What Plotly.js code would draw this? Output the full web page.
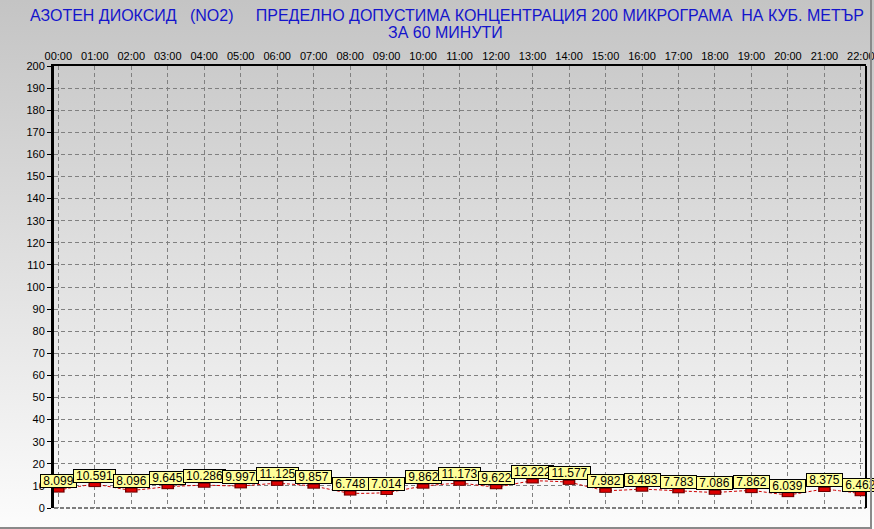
<!DOCTYPE html>
<html><head><meta charset="utf-8">
<script src="https://cdn.plot.ly/plotly-3.0.1.min.js"></script>
<style>
html,body{margin:0;padding:0;background:#fff;}
#wrap{position:relative;width:874px;height:529px;background:linear-gradient(#c4c4c4,#fcfcfc);overflow:hidden}
#chart{position:absolute;left:0;top:0;width:874px;height:529px}
#frame{position:absolute;left:0;top:0;width:870px;height:527px;border-right:2px solid #8a8a8a;border-bottom:2px solid #8a8a8a;pointer-events:none;box-sizing:content-box}
</style></head>
<body><div id="wrap"><div id="chart"></div><div id="frame"></div></div>
<script>
const hours = ['00:00','01:00','02:00','03:00','04:00','05:00','06:00','07:00','08:00','09:00','10:00','11:00',
  '12:00','13:00','14:00','15:00','16:00','17:00','18:00','19:00','20:00','21:00','22:00'];
const no2 = [8.099,10.591,8.096,9.645,10.286,9.997,11.125,9.857,6.748,7.014,9.862,11.173,
  9.622,12.222,11.577,7.982,8.483,7.783,7.086,7.862,6.039,8.375,6.462];
const titleLine1 = 'АЗОТЕН ДИОКСИД\u00a0\u00a0\u00a0(NO2)\u00a0\u00a0\u00a0\u00a0\u00a0ПРЕДЕЛНО ДОПУСТИМА КОНЦЕНТРАЦИЯ 200 МИКРОГРАМА\u00a0\u00a0НА КУБ. МЕТЪР';
const titleLine2 = 'ЗА 60 МИНУТИ';

const FONT = 'Arial, "Liberation Sans", sans-serif';
const TITLE_COLOR = '#1414cc';
const labels = no2.map(v => v.toFixed(3));

const traces = [
  {x: hours, y: no2, mode: 'lines', line: {color: '#d00000', width: 1, dash: '3px,2px', shape: 'spline', smoothing: 0.6}, hoverinfo: 'skip'},
  {x: hours, y: no2, mode: 'markers', marker: {symbol: 'line-ew', size: 9, color: '#700000', line: {width: 5, color: '#700000'}}, hoverinfo: 'skip'},
  {x: hours, y: no2, mode: 'markers', marker: {symbol: 'line-ew', size: 7, color: '#dd0000', line: {width: 3, color: '#dd0000'}}, hoverinfo: 'skip'}
];

const annotations = labels.map((t, i) => ({
  x: hours[i], y: no2[i], xref: 'x', yref: 'y', text: t, showarrow: false,
  xanchor: 'center', yanchor: 'bottom', yshift: 2,
  bgcolor: '#ffff99', bordercolor: '#000000', borderwidth: 1, borderpad: 0,
  width: Math.round(t.length * 6.4 + 3), height: 12,
  font: {family: FONT, size: 12, color: '#000000'}
}));
annotations.push({
  xref: 'paper', yref: 'paper', x: (445 - 54) / 812, y: (508 - 32) / 442, xanchor: 'center', yanchor: 'middle',
  text: titleLine2, showarrow: false, font: {family: FONT, size: 16, color: TITLE_COLOR}
});

const gridDash = '4px,3px';
const TICKFONT = {family: FONT, size: 11, color: '#000000'};
const layout = {
  width: 874, height: 529,
  margin: {l: 54, r: 8, t: 66, b: 21, pad: 0},
  paper_bgcolor: 'rgba(0,0,0,0)', plot_bgcolor: 'rgba(0,0,0,0)',
  showlegend: false,
  font: {family: FONT, size: 12, color: '#000000'},
  title: {text: titleLine1, font: {family: FONT, size: 16, color: TITLE_COLOR},
    x: 447/874, xanchor: 'center', xref: 'container', y: 1 - 15/529, yanchor: 'middle', yref: 'container'},
  xaxis: {type: 'category', side: 'top', range: [-0.118, 22.14], showgrid: true, gridcolor: '#808080',
    griddash: gridDash, gridwidth: 1, showline: true, linecolor: '#000000', linewidth: 2,
    ticks: '', zeroline: false, tickfont: TICKFONT, fixedrange: true},
  yaxis: {range: [0, 200], tick0: 0, dtick: 10, showgrid: true, gridcolor: '#808080', griddash: gridDash,
    gridwidth: 1, ticks: 'outside', ticklen: 4, tickcolor: '#000000', tickwidth: 1, showline: true,
    linecolor: '#000000', linewidth: 3, zeroline: false, tickfont: TICKFONT, fixedrange: true},
  shapes: [
    {type: 'line', xref: 'paper', yref: 'paper', x0: 1, x1: 1, y0: 0, y1: 1, line: {color: '#000000', width: 2}},
    {type: 'line', xref: 'paper', yref: 'paper', x0: 0, x1: 1, y0: 0, y1: 0, line: {color: '#000000', width: 1, dash: '4px,2px'}}
  ],
  annotations: annotations
};
Plotly.newPlot('chart', traces, layout, {staticPlot: true, displayModeBar: false});
</script>
</body></html>
